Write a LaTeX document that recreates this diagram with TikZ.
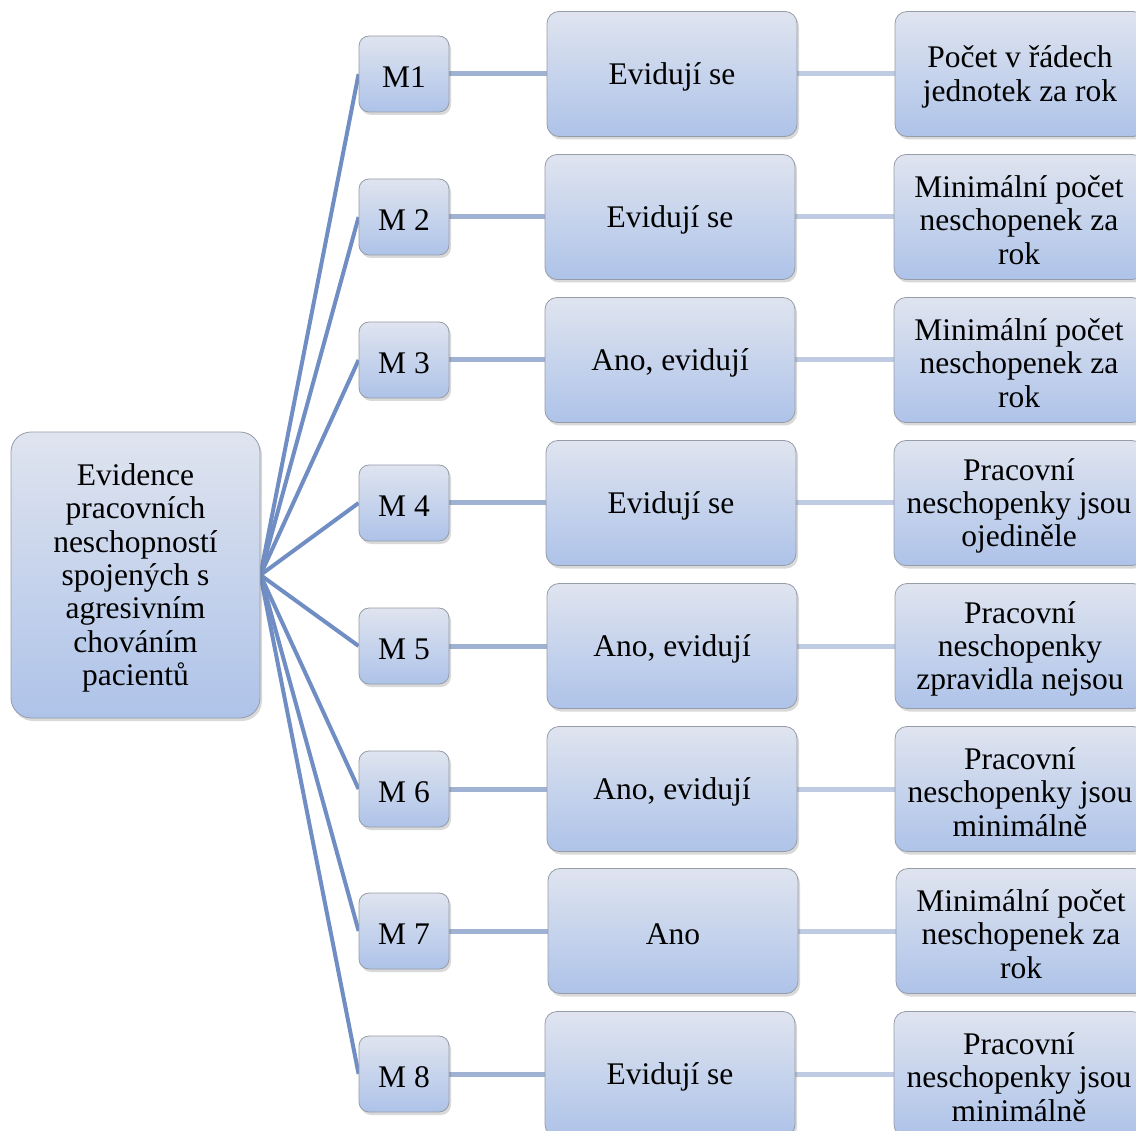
\documentclass[tikz,border=0pt]{standalone}
\usepackage{fontspec}
\newfontfamily\boxfont{Liberation Serif}
\usetikzlibrary{shadows,backgrounds}
\definecolor{boxtop}{RGB}{223,228,239}
\definecolor{boxbot}{RGB}{174,195,233}
\definecolor{boxline}{RGB}{150,156,168}
\definecolor{linkA}{RGB}{112,142,196}
\definecolor{linkB}{RGB}{160,178,212}
\definecolor{linkC}{RGB}{190,203,226}
\tikzset{
  x=1pt, y=-1pt,
  boxbase/.style={draw=boxline, line width=0.8pt, top color=boxtop, bottom color=boxbot,
    drop shadow={shadow xshift=2pt, shadow yshift=-3pt, opacity=0.25, fill=black!60}},
  boxtext/.style={align=center, inner sep=0pt, yshift=-3pt,
    font=\boxfont\fontsize{31.5}{33.3}\selectfont},
  txt/.style={label={[boxtext]center:{#1}}},
  rootbox/.style={boxbase, rounded corners=20pt, minimum width=249pt, minimum height=286pt},
  mbox/.style={boxbase, rounded corners=10pt, minimum width=90pt, minimum height=76pt},
  midbox/.style={boxbase, rounded corners=12pt, minimum width=250pt, minimum height=125pt},
  endbox/.style={boxbase, rounded corners=12pt, minimum width=250pt, minimum height=125pt},
  linkroot/.style={draw=linkA, line width=4pt},
  linkmid/.style={draw=linkB, line width=5pt},
  linkend/.style={draw=linkC, line width=5pt},
}
\begin{document}
\begin{tikzpicture}
\useasboundingbox (0,0) rectangle (1136,1131);
\clip (0,0) rectangle (1136,1131);

\node[rootbox, txt={Evidence\\pracovních\\neschopností\\spojených s\\agresivním\\chováním\\pacientů}] (root) at (135.5,575) {};

% rows: M node, answer, detail
\node[mbox, txt={M1}] (m1) at (404,74) {};
\node[midbox, txt={Evidují se}] (a1) at (672,74) {};
\node[endbox, txt={Počet v řádech\\jednotek za rok}] (d1) at (1020,74) {};

\node[mbox, txt={M 2}] (m2) at (404,217) {};
\node[midbox, txt={Evidují se}] (a2) at (670,217) {};
\node[endbox, txt={Minimální počet\\neschopenek za\\rok}] (d2) at (1019,217) {};

\node[mbox, txt={M 3}] (m3) at (404,360) {};
\node[midbox, txt={Ano, evidují}] (a3) at (670,360) {};
\node[endbox, txt={Minimální počet\\neschopenek za\\rok}] (d3) at (1019,360) {};

\node[mbox, txt={M 4}] (m4) at (404,503) {};
\node[midbox, txt={Evidují se}] (a4) at (671,503) {};
\node[endbox, txt={Pracovní\\neschopenky jsou\\ojediněle}] (d4) at (1019,503) {};

\node[mbox, txt={M 5}] (m5) at (404,646) {};
\node[midbox, txt={Ano, evidují}] (a5) at (672,646) {};
\node[endbox, txt={Pracovní\\neschopenky\\zpravidla nejsou}] (d5) at (1020,646) {};

\node[mbox, txt={M 6}] (m6) at (404,789) {};
\node[midbox, txt={Ano, evidují}] (a6) at (672,789) {};
\node[endbox, txt={Pracovní\\neschopenky jsou\\minimálně}] (d6) at (1020,789) {};

\node[mbox, txt={M 7}] (m7) at (404,931) {};
\node[midbox, txt={Ano}] (a7) at (673,931) {};
\node[endbox, txt={Minimální počet\\neschopenek za\\rok}] (d7) at (1021,931) {};

\node[mbox, txt={M 8}] (m8) at (404,1074) {};
\node[midbox, txt={Evidují se}] (a8) at (670,1074) {};
\node[endbox, txt={Pracovní\\neschopenky jsou\\minimálně}] (d8) at (1019,1074) {};

\begin{scope}[on background layer]
  \foreach \i in {1,...,8} {
    \draw[linkroot] (root.east) -- (m\i.west);
    \draw[linkmid] (m\i.east) -- (a\i.west);
    \draw[linkend] (a\i.east) -- (d\i.west);
  }
\end{scope}
\end{tikzpicture}
\end{document}
